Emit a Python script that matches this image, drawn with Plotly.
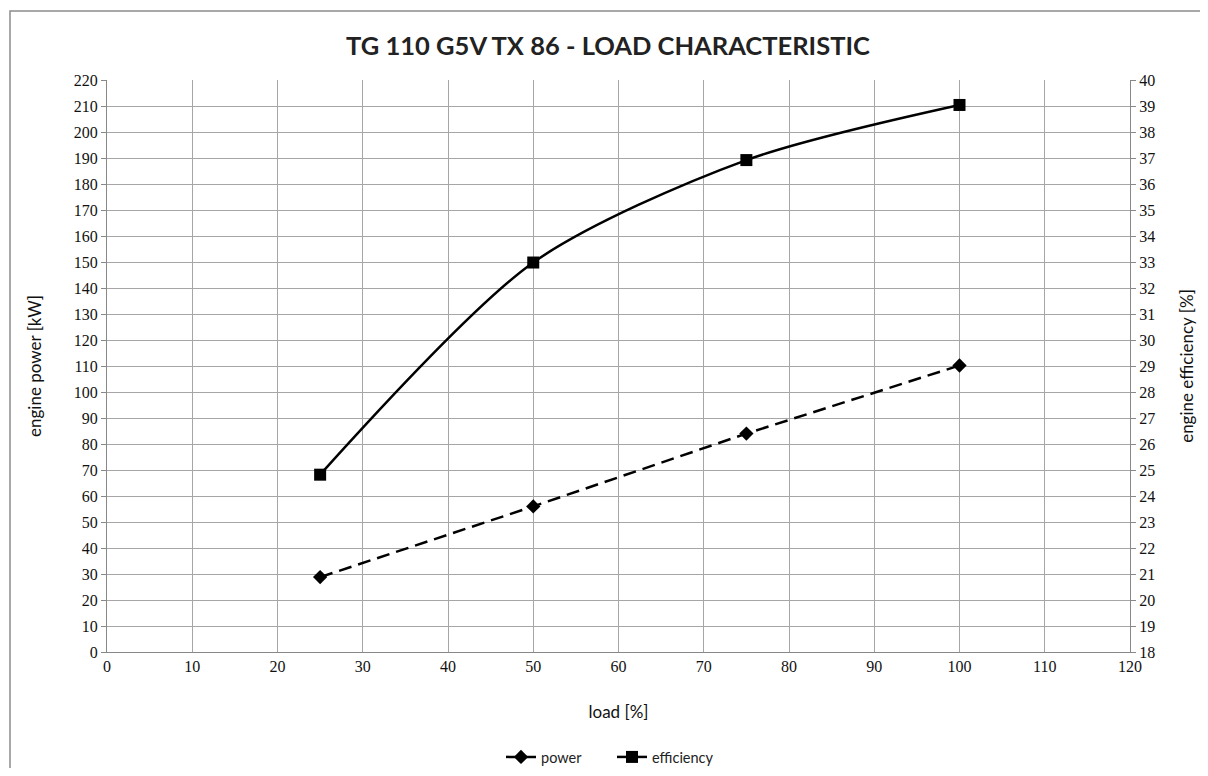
import plotly.graph_objects as go

load = [25, 50, 75, 100]
power = [28.8, 56.0, 84.0, 110.2]
efficiency = [24.82, 32.98, 36.92, 39.04]

x_ticks = list(range(0, 121, 10))
y_ticks = list(range(0, 221, 10))
y2_ticks = list(range(18, 41, 1))

# page has an 8px body margin on every side; figure occupies screen (8..1200, 8..768)
OFF = 8
W, H = 1192, 760
L, R, T, B = 99, 70, 72, 116
pw, ph = W - L - R, H - T - B


def px_x(p):
    return (p - OFF - L) / pw


def px_y(p):
    return (H - B - (p - OFF)) / ph


fig = go.Figure()
fig.add_trace(go.Scatter(
    x=load, y=power, name="power", mode="lines+markers",
    line=dict(color="black", width=2.5, dash="13px,7px"),
    marker=dict(symbol="diamond", size=11, color="black"),
))
fig.add_trace(go.Scatter(
    x=load, y=efficiency, name="efficiency", mode="lines+markers", yaxis="y2",
    line=dict(color="black", width=2.5, shape="spline", smoothing=0.8),
    marker=dict(symbol="square", size=12, color="black"),
))

tickfont = dict(family="Liberation Serif", size=16, color="#111")
titlefont = dict(family="Lato", size=17, color="#111")

fig.update_layout(
    width=W, height=H,
    margin=dict(l=L, r=R, t=T, b=B, autoexpand=False),
    paper_bgcolor="white", plot_bgcolor="white",
    title=dict(text="<b>TG 110 G5V TX 86 - LOAD CHARACTERISTIC</b>",
               x=px_x(608), xref="paper", xanchor="center",
               y=1 - (46 - OFF) / H, yanchor="middle",
               font=dict(family="Lato", size=25.5, color="#222")),
    xaxis=dict(range=[0, 120], tickvals=x_ticks, showgrid=True, gridcolor="#a6a6a6",
               gridwidth=1, zeroline=False, showline=True, linecolor="#888",
               ticks="", tickfont=tickfont, automargin=False,
               title=dict(text="load [%]", font=titlefont, standoff=31)),
    yaxis=dict(range=[0, 220], tickvals=y_ticks, showgrid=True, gridcolor="#a6a6a6",
               gridwidth=1, zeroline=False, showline=True, linecolor="#888",
               ticks="outside", ticklen=5, tickcolor="#888", tickfont=tickfont,
               automargin=False,
               title=dict(text="engine power [kW]", font=titlefont, standoff=27)),
    yaxis2=dict(range=[18, 40], tickvals=y2_ticks, overlaying="y", side="right",
                showgrid=False, zeroline=False, showline=True, linecolor="#888",
                ticks="outside", ticklen=5, tickcolor="#888", tickfont=tickfont,
                automargin=False,
                title=dict(text="engine efficiency [%]", font=titlefont, standoff=26)),
    legend=dict(orientation="h", x=px_x(612), xanchor="center",
                y=px_y(757), yanchor="middle",
                font=dict(family="Lato", size=14.5, color="#222"),
                bgcolor="rgba(0,0,0,0)", entrywidth=66),
    showlegend=True,
)

fig.add_shape(type="rect", xref="paper", yref="paper",
              x0=px_x(10), x1=px_x(1230), y0=px_y(800), y1=px_y(11),
              line=dict(color="#8c8c8c", width=1.5), fillcolor="rgba(0,0,0,0)",
              layer="below")

fig.write_html("out.html")
